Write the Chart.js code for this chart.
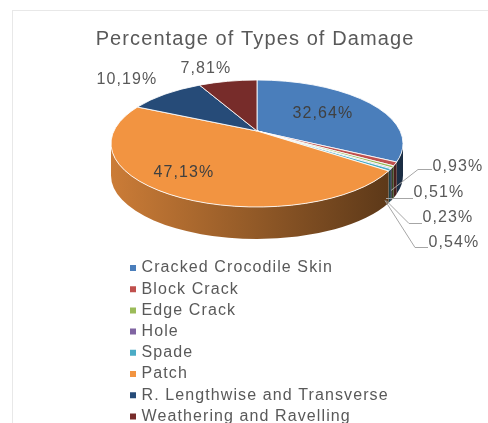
<!DOCTYPE html>
<html>
<head>
<meta charset="utf-8">
<script src="https://cdn.jsdelivr.net/npm/chart.js@4"></script>
<style>
html, body { margin: 0; padding: 0; background: #fff; overflow: hidden; height: 423px; }
#frame { position: absolute; left: 12px; top: 10px; width: 476px; height: 413px; border-top: 1px solid #e8e8e8; border-left: 1px solid #e8e8e8; }
canvas { position: absolute; left: 0; top: 0; }
</style>
</head>
<body>
<div id="frame"></div>
<canvas id="pie" width="488" height="440"></canvas>
<script>
// Damage types, clockwise from 12 o'clock
const categories = ['Cracked Crocodile Skin', 'Block Crack', 'Edge Crack', 'Hole', 'Spade', 'Patch', 'R. Lengthwise and Transverse', 'Weathering and Ravelling'];
const percentages = [32.64, 0.93, 0.51, 0.23, 0.54, 47.13, 10.19, 7.81];
const sliceColors = ['#4a7ebb', '#c0504d', '#9bbb59', '#8064a2', '#4bacc6', '#f29441', '#264b78', '#772c2a'];

// where each value label goes: [x, y]
const labelSpots = [[323, 114], [458, 167], [439, 193], [448, 218], [454, 243], [184, 173], [127, 80], [206, 69]];
// leader lines for the thin slices
const leaders = [
    [[391, 190], [418, 169], [432, 169]],
    [[386, 198], [413, 198]],
    [[386, 200], [409, 223], [422, 223]],
    [[385, 200], [415, 247], [428, 247]]
];

// projected disc
const cx = 257, cy = 143.5, rx = 146, ry = 63.5, depth = 32;
const tilt = -0.197; // perspective pulls the pivot up from the ellipse centre

// library angle -> ellipse parameter, so the pivot lands off centre like a real perspective view
function project(a) {
    const u = Math.cos(a), v = Math.sin(a);
    const den = 1 + tilt * v;
    return Math.atan2((v + tilt) / den, u * Math.sqrt(1 - tilt * tilt) / den);
}

function shade(hex, f) {
    const n = parseInt(hex.slice(1), 16);
    return `rgb(${Math.round((n >> 16) * f)},${Math.round(((n >> 8) & 255) * f)},${Math.round((n & 255) * f)})`;
}

const pie3d = {
    id: 'pie3d',
    beforeUpdate(chart) {
        chart.ctx.letterSpacing = '1.1px';
    },
    beforeDraw(chart) {
        // legend sits under the pie, not beside it
        chart.legend.left = 127.3;
        chart.legend.top = 254.8;
        chart.legend.bottom = 440;
    },
    beforeDatasetDraw(chart, args) {
        const ctx = chart.ctx;
        const arcs = args.meta.data;
        const pivotY = cy + tilt * ry;

        // side wall first
        arcs.forEach((arc, i) => {
            const t1 = project(arc.startAngle);
            let t2 = project(arc.endAngle);
            if (t2 < t1) t2 += Math.PI * 2;
            const s = Math.max(t1, 0), e = Math.min(t2, Math.PI);
            if (e <= s) return;
            const g = ctx.createLinearGradient(cx - rx, 0, cx + rx, 0);
            g.addColorStop(0, shade(sliceColors[i], 0.84));
            g.addColorStop(0.5, shade(sliceColors[i], 0.6));
            g.addColorStop(1, shade(sliceColors[i], 0.36));
            ctx.beginPath();
            ctx.ellipse(cx, cy, rx, ry, 0, s, e);
            ctx.ellipse(cx, cy + depth, rx, ry, 0, e, s, true);
            ctx.closePath();
            ctx.fillStyle = g;
            ctx.fill();
        });

        // top face
        arcs.forEach((arc, i) => {
            ctx.beginPath();
            ctx.moveTo(cx, pivotY);
            ctx.ellipse(cx, cy, rx, ry, 0, project(arc.startAngle), project(arc.endAngle));
            ctx.closePath();
            ctx.fillStyle = sliceColors[i];
            ctx.fill();
            ctx.strokeStyle = 'rgba(255,255,255,0.85)';
            ctx.lineWidth = 1;
            ctx.stroke();
        });
        return false;
    },
    afterDatasetsDraw(chart) {
        const ctx = chart.ctx;
        ctx.save();
        ctx.strokeStyle = '#a6a6a6';
        ctx.lineWidth = 1;
        leaders.forEach(line => {
            ctx.beginPath();
            line.forEach((p, i) => i ? ctx.lineTo(p[0], p[1] + 0.5) : ctx.moveTo(p[0], p[1] + 0.5));
            ctx.stroke();
        });
        ctx.font = '16px "Liberation Sans"';
        ctx.textAlign = 'center';
        ctx.textBaseline = 'middle';
        percentages.forEach((v, i) => {
            ctx.fillStyle = (i === 0 || i === 5) ? '#404040' : '#595959';
            ctx.fillText(v.toFixed(2).replace('.', ',') + '%', labelSpots[i][0], labelSpots[i][1]);
        });
        ctx.restore();
    }
};

new Chart(document.getElementById('pie'), {
    type: 'pie',
    data: {
        labels: categories,
        datasets: [{ data: percentages, backgroundColor: sliceColors, borderWidth: 0 }]
    },
    options: {
        responsive: false,
        animation: false,
        layout: { padding: { left: 22, right: 0, top: 0, bottom: 0 } },
        plugins: {
            tooltip: { enabled: false },
            title: {
                display: true,
                text: 'Percentage of Types of Damage',
                color: '#595959',
                font: { family: '"Liberation Sans"', size: 20, weight: 'normal' },
                padding: { top: 27, bottom: 10 }
            },
            legend: {
                position: 'chartArea',
                align: 'start',
                labels: {
                    usePointStyle: true,
                    pointStyle: 'rect',
                    boxWidth: 1,
                    boxHeight: 6,
                    padding: 5.2,
                    color: '#595959',
                    font: { family: '"Liberation Sans"', size: 16 }
                }
            }
        }
    },
    plugins: [pie3d]
});
</script>
</body>
</html>
